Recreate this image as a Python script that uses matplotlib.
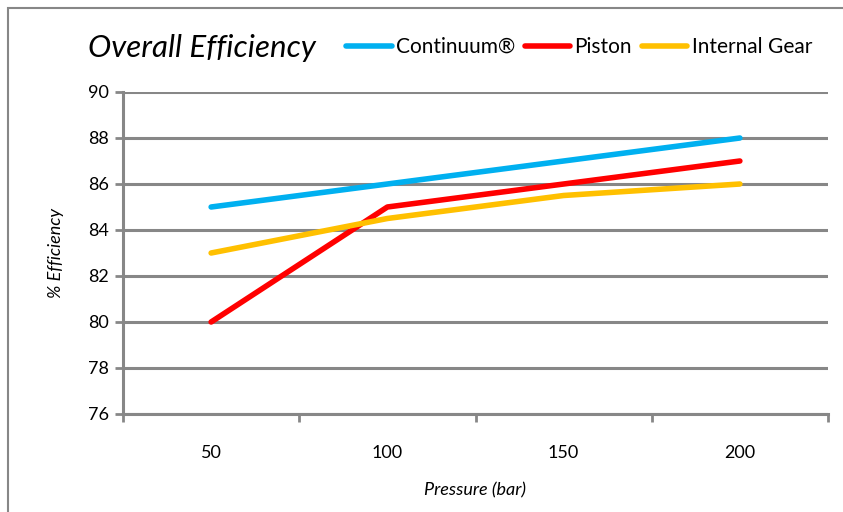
import matplotlib
matplotlib.use('Agg')
import matplotlib.pyplot as plt
from matplotlib.patches import Rectangle
import numpy as np

plt.rcParams['font.family'] = ['Lato', 'DejaVu Sans']

pressure = ['50', '100', '150', '200']
continuum = [85, 86, 87, 88]
piston = [80, 85, 86, 87]
internal_gear = [83, 84.5, 85.5, 86]

grey = '#878787'

fig = plt.figure(figsize=(8.43, 5.12), dpi=100)
ax = fig.add_axes([123/843, 1-414/512, (828-123)/843, (414-92)/512])

x = np.arange(len(pressure))
ax.plot(x, continuum, color='#00b0f0', lw=4, solid_capstyle='round', label='Continuum®', zorder=3)
ax.plot(x, piston, color='#ff0000', lw=4, solid_capstyle='round', label='Piston', zorder=3)
ax.plot(x, internal_gear, color='#ffc000', lw=4, solid_capstyle='round', label='Internal Gear', zorder=3)

ax.set_xlim(-0.5, 3.5)
ax.set_ylim(76, 90)
ax.set_yticks(range(76, 91, 2))
ax.yaxis.grid(True, color=grey, lw=2.2)
ax.set_axisbelow(True)

ax.set_xticks(x)
ax.set_xticklabels(pressure)
ax.set_xticks(np.arange(-0.5, 4, 1), minor=True)
ax.tick_params(axis='x', which='major', length=0, pad=22, labelsize=13)
ax.tick_params(axis='x', which='minor', length=6, width=2, color=grey, direction='out')
ax.tick_params(axis='y', length=6, width=2, color=grey, labelsize=13, pad=4)

for s in ['top', 'right']:
    ax.spines[s].set_visible(False)
for s in ['left', 'bottom']:
    ax.spines[s].set_color(grey)
    ax.spines[s].set_linewidth(2.2)

ax.set_xlabel('Pressure (bar)', style='italic', fontsize=13, labelpad=16)
ax.set_ylabel('% Efficiency', style='italic', fontsize=13, labelpad=17)

fig.text(88/843, 1-48/512, 'Overall Efficiency', style='italic', fontsize=22.5, va='center', ha='left')
fig.legend(loc='center left', bbox_to_anchor=(346/843, 1-47/512), ncol=3, frameon=False,
           fontsize=15, handlelength=2.2, handletextpad=0.2, columnspacing=0.45,
           borderaxespad=0, borderpad=0)

# chart frame
fig.patches.append(Rectangle((8/843, -0.1), 1.1, 1-8/512+0.1, transform=fig.transFigure,
                             fill=False, edgecolor=grey, lw=1.5))

fig.savefig('out.png', dpi=100)
